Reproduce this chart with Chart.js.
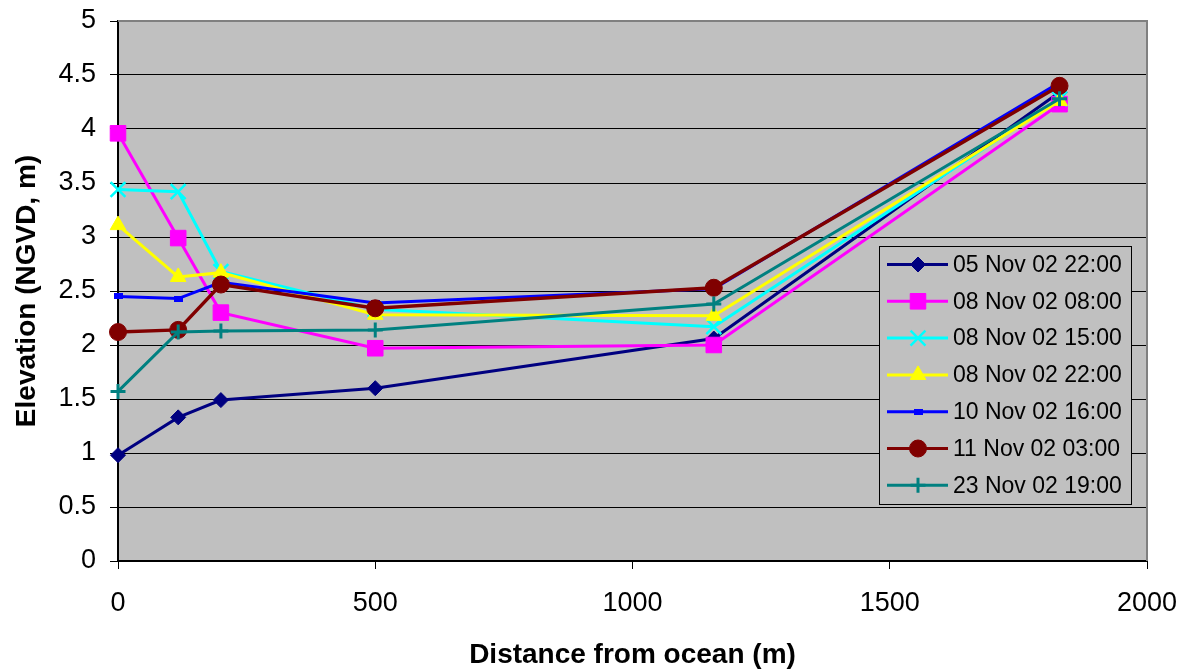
<!DOCTYPE html>
<html>
<head>
<meta charset="utf-8">
<title>Elevation vs distance from ocean</title>
<script src="https://cdn.jsdelivr.net/npm/chart.js@4.4.1/dist/chart.umd.min.js"></script>
<style>
  html, body { margin: 0; padding: 0; background: #ffffff; }
  #wrap { width: 1197px; height: 672px; }
</style>
</head>
<body>
<div id="wrap"><canvas id="chart" width="1197" height="672"></canvas></div>
<script>
// Survey stations (distance from ocean, m)
const distances = [0, 117, 200, 500, 1158, 1830];

// Water elevation at each station (NGVD, m), one array per observation time
const seriesNames = [
  '05 Nov 02 22:00',
  '08 Nov 02 08:00',
  '08 Nov 02 15:00',
  '08 Nov 02 22:00',
  '10 Nov 02 16:00',
  '11 Nov 02 03:00',
  '23 Nov 02 19:00'
];
const elev05Nov2200 = [0.98, 1.33, 1.49, 1.60, 2.06, 4.34];
const elev08Nov0800 = [3.96, 2.99, 2.30, 1.97, 2.00, 4.23];
const elev08Nov1500 = [3.44, 3.42, 2.68, 2.33, 2.17, 4.28];
const elev08Nov2200 = [3.11, 2.63, 2.67, 2.28, 2.27, 4.26];
const elev10Nov1600 = [2.45, 2.43, 2.58, 2.39, 2.52, 4.43];
const elev11Nov0300 = [2.12, 2.14, 2.56, 2.34, 2.53, 4.40];
const elev23Nov1900 = [1.57, 2.12, 2.13, 2.14, 2.38, 4.28];

// Axis tick labels
const xTickValues = [0, 500, 1000, 1500, 2000];
const yTickValues = [0, 0.5, 1, 1.5, 2, 2.5, 3, 3.5, 4, 4.5, 5];

const FONT = "'Liberation Sans', Arial, Helvetica, sans-serif";

// small flat bar used as the marker of the 10 Nov series
const barMarker = document.createElement('canvas');
barMarker.width = 9;
barMarker.height = 6;
(function () {
  const g = barMarker.getContext('2d');
  g.fillStyle = '#0000FF';
  g.fillRect(0, 0, 9, 6);
})();

const seriesValues = [elev05Nov2200, elev08Nov0800, elev08Nov1500, elev08Nov2200,
                      elev10Nov1600, elev11Nov0300, elev23Nov1900];
const seriesStyles = [
  { color: '#000080', pointStyle: 'rectRot',  radius: 7.5, borderWidth: 1,   lineWidth: 3 },
  { color: '#FF00FF', pointStyle: 'rect',     radius: 11,  borderWidth: 1,   lineWidth: 3 },
  { color: '#00FFFF', pointStyle: 'crossRot', radius: 10.5, borderWidth: 2.5, lineWidth: 3 },
  { color: '#FFFF00', pointStyle: 'triangle', radius: 9,   borderWidth: 1,   lineWidth: 3 },
  { color: '#0000FF', pointStyle: barMarker,  radius: 5,   borderWidth: 1,   lineWidth: 3 },
  { color: '#800000', pointStyle: 'circle',   radius: 8.5, borderWidth: 1,   lineWidth: 3.5 },
  { color: '#008080', pointStyle: 'cross',    radius: 7.5, borderWidth: 3,   lineWidth: 3 }
];

const datasets = seriesValues.map((vals, i) => {
  const s = seriesStyles[i];
  return {
    label: seriesNames[i],
    data: vals.map((v, k) => ({ x: distances[k], y: v })),
    borderColor: s.color,
    backgroundColor: s.color,
    borderWidth: s.lineWidth,
    pointStyle: s.pointStyle,
    pointRadius: s.radius,
    pointBorderWidth: s.borderWidth,
    pointBorderColor: s.color,
    pointBackgroundColor: s.color,
    tension: 0,
    fill: false,
    clip: false,
    // later series are painted over earlier ones
    order: seriesValues.length - 1 - i
  };
});

// grey plot area with a thin grey frame on the top and right
const plotArea = {
  id: 'plotArea',
  beforeDraw(chart) {
    const { ctx, chartArea: a } = chart;
    ctx.save();
    ctx.fillStyle = '#C0C0C0';
    ctx.fillRect(a.left, a.top, a.right - a.left, a.bottom - a.top);
    ctx.restore();
  },
  beforeDatasetsDraw(chart) {
    const { ctx, chartArea: a } = chart;
    ctx.save();
    ctx.strokeStyle = '#808080';
    ctx.lineWidth = 2;
    ctx.beginPath();
    ctx.moveTo(a.left, a.top);
    ctx.lineTo(a.right, a.top);
    ctx.lineTo(a.right, a.bottom);
    ctx.stroke();
    ctx.restore();
  }
};

function drawMarker(ctx, ds, x, y) {
  const opts = {
    pointStyle: ds.pointStyle,
    radius: ds.pointRadius,
    borderWidth: ds.pointBorderWidth,
    rotation: 0
  };
  ctx.fillStyle = ds.pointBackgroundColor;
  ctx.strokeStyle = ds.pointBorderColor;
  ctx.lineWidth = ds.pointBorderWidth;
  Chart.helpers.drawPoint(ctx, opts, x, y);
}

// boxed legend inside the plot area, lower right
const boxedLegend = {
  id: 'boxedLegend',
  afterDraw(chart) {
    const { ctx, chartArea: a } = chart;
    const dsList = chart.data.datasets;
    const boxW = 252, boxH = 258;
    const left = a.right - 268;
    const top = a.top + 225;
    const rowH = 36.8;
    ctx.save();
    ctx.fillStyle = '#C0C0C0';
    ctx.fillRect(left, top, boxW, boxH);
    ctx.strokeStyle = '#000000';
    ctx.lineWidth = 1;
    ctx.strokeRect(left + 0.5, top + 0.5, boxW, boxH);
    ctx.font = '23px ' + FONT;
    ctx.textBaseline = 'middle';
    ctx.textAlign = 'left';
    dsList.forEach((ds, i) => {
      const cy = top + 18.5 + i * rowH;
      ctx.strokeStyle = ds.borderColor;
      ctx.lineWidth = 3;
      ctx.beginPath();
      ctx.moveTo(left + 8, cy);
      ctx.lineTo(left + 69, cy);
      ctx.stroke();
      drawMarker(ctx, ds, left + 39, cy);
      ctx.fillStyle = '#000000';
      ctx.fillText(ds.label, left + 74, cy + 1);
    });
    ctx.restore();
  }
};

new Chart(document.getElementById('chart'), {
  type: 'line',
  data: { datasets },
  plugins: [plotArea, boxedLegend],
  options: {
    responsive: false,
    animation: false,
    events: [],
    devicePixelRatio: 1,
    layout: { padding: { top: 21, right: 50, left: 0, bottom: 0 } },
    plugins: {
      legend: { display: false },
      tooltip: { enabled: false },
      title: { display: false }
    },
    scales: {
      x: {
        type: 'linear',
        min: 0,
        max: 2000,
        afterBuildTicks(scale) { scale.ticks = xTickValues.map(v => ({ value: v })); },
        afterFit(scale) {
          scale.height = 111;
          scale.paddingLeft = 0;
          scale.paddingRight = 0;
        },
        ticks: {
          color: '#000',
          font: { family: FONT, size: 27 },
          padding: 18,
          maxRotation: 0,
          autoSkip: false,
          callback: v => String(v)
        },
        grid: {
          display: true,
          drawOnChartArea: false,
          drawTicks: true,
          tickLength: 8,
          tickColor: '#000',
          tickWidth: 1
        },
        border: { display: true, color: '#000', width: 2 },
        title: {
          display: true,
          text: 'Distance from ocean (m)',
          color: '#000',
          font: { family: FONT, size: 28, weight: 'bold' },
          padding: { top: 0, bottom: 0 }
        }
      },
      y: {
        type: 'linear',
        min: 0,
        max: 5,
        afterBuildTicks(scale) { scale.ticks = yTickValues.map(v => ({ value: v })); },
        afterFit(scale) {
          scale.width = 118;
          scale.paddingTop = 0;
          scale.paddingBottom = 0;
        },
        ticks: {
          color: '#000',
          font: { family: FONT, size: 27 },
          padding: 14,
          autoSkip: false,
          callback: v => String(v)
        },
        grid: {
          display: true,
          drawOnChartArea: true,
          drawTicks: true,
          tickLength: 8,
          tickColor: '#000',
          tickWidth: 1,
          lineWidth: 1,
          color: c => (c.tick && c.tick.value === 5 ? '#808080' : '#000000')
        },
        border: { display: true, color: '#000', width: 2 },
        title: {
          display: true,
          text: 'Elevation (NGVD, m)',
          color: '#000',
          font: { family: FONT, size: 28, weight: 'bold' },
          padding: { top: 10, bottom: 0 }
        }
      }
    }
  }
});
</script>
</body>
</html>
